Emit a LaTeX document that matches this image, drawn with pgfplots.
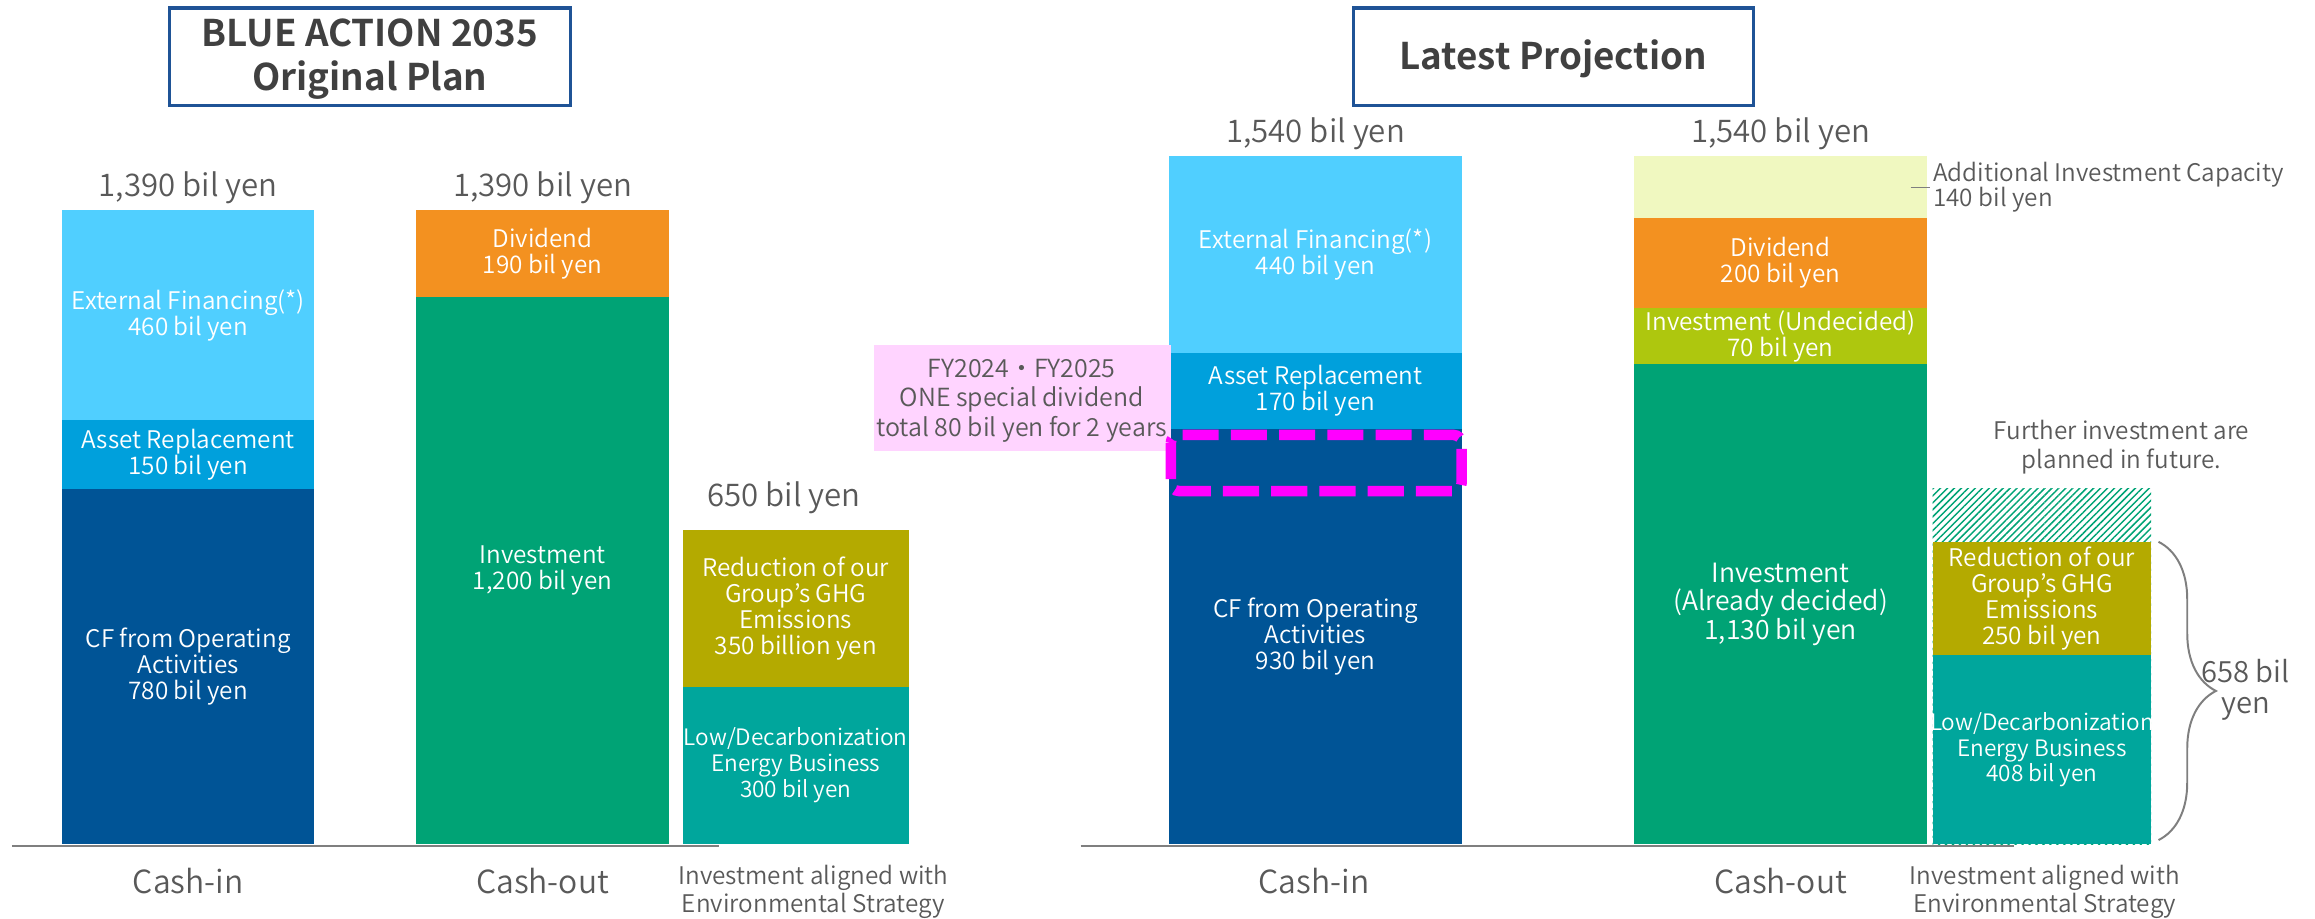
\documentclass[border=0pt]{standalone}
\usepackage{pgfplots}
\pgfplotsset{compat=1.18}
\usepackage{fontspec}
\setmainfont{Noto Sans CJK JP}[UprightFont=* DemiLight, BoldFont=* Bold]
\usetikzlibrary{patterns.meta,decorations.pathreplacing}

\definecolor{extfin}{RGB}{80,207,255}
\definecolor{asset}{RGB}{0,160,220}
\definecolor{cfop}{RGB}{0,84,150}
\definecolor{divid}{RGB}{243,145,32}
\definecolor{invest}{RGB}{0,163,117}
\definecolor{ghg}{RGB}{180,170,0}
\definecolor{lowc}{RGB}{0,166,156}
\definecolor{addcap}{RGB}{240,248,192}
\definecolor{undec}{RGB}{174,199,14}
\definecolor{pinkbox}{RGB}{255,212,255}
\definecolor{dashmag}{RGB}{255,0,255}
\definecolor{txtgray}{RGB}{89,89,89}
\definecolor{titlegray}{RGB}{64,64,64}
\definecolor{navy}{RGB}{31,83,150}
\definecolor{linegray}{RGB}{127,127,127}

\pgfplotsset{
  panel/.style={scale only axis, width=705.6pt, height=279.9pt, xmin=0, xmax=1568,
    hide axis, clip=false, at={(0,0)}, anchor=south west},
  seg/.style={ybar, bar shift=0pt, draw=none, fill=#1},
}
\tikzset{
  inl/.style={text=white, align=center, inner sep=0pt, font=\fontsize{7.4}{7.9}\selectfont},
  inls/.style={inl, font=\fontsize{6.9}{7.9}\selectfont},
  tot/.style={text=txtgray, anchor=base, inner sep=0pt, font=\fontsize{9.5}{10}\selectfont},
  cat/.style={text=txtgray, anchor=base, inner sep=0pt, font=\fontsize{9.7}{10}\selectfont},
  sml/.style={text=txtgray, anchor=base, inner sep=0pt, font=\fontsize{7.4}{8}\selectfont},
  ttl/.style={text=titlegray, anchor=base, inner sep=0pt, font=\bfseries\fontsize{11.2}{12}\selectfont},
}

\begin{document}
\begin{tikzpicture}
\path[use as bounding box] (0,0) rectangle (705.6pt,279.9pt);

% ---------- Left panel: BLUE ACTION 2035 Original Plan ----------
\begin{axis}[panel, ymin=-161.8, ymax=1850.5]
% Cash-in (cumulative tops: 780 / +150 / +460)
\addplot[seg=extfin, bar width=171] coordinates {(127.5,1390)};
\addplot[seg=asset,  bar width=171] coordinates {(127.5,930)};
\addplot[seg=cfop,   bar width=171] coordinates {(127.5,780)};
% Cash-out (1200 / +190)
\addplot[seg=divid,  bar width=171] coordinates {(367.5,1390)};
\addplot[seg=invest, bar width=171] coordinates {(367.5,1200)};
% Investment aligned with environmental strategy
\addplot[seg=ghg,  bar width=153] coordinates {(539,689)};
\addplot[seg=lowc, bar width=153] coordinates {(539,346)};

\node[inl] at (axis cs:127.5,1160) {External Financing(*)\\460 bil yen};
\node[inl] at (axis cs:127.5,855) {Asset Replacement\\150 bil yen};
\node[inl] at (axis cs:127.5,390) {CF from Operating\\Activities\\780 bil yen};
\node[inl] at (axis cs:367.5,1295) {Dividend\\190 bil yen};
\node[inl] at (axis cs:367.5,600) {Investment\\1,200 bil yen};
\node[inl] at (axis cs:539,517.5) {Reduction of our\\Group’s GHG\\Emissions\\350 billion yen};
\node[inls] at (axis cs:539,173) {Low/Decarbonization\\Energy Business\\300 bil yen};
\end{axis}

% ---------- Right panel: Latest Projection ----------
\begin{axis}[panel, ymin=-165.1, ymax=1888.4]
% Cash-in (930 / +170 / +440)
\addplot[seg=extfin, bar width=198] coordinates {(891,1540)};
\addplot[seg=asset,  bar width=198] coordinates {(891,1100)};
\addplot[seg=cfop,   bar width=198] coordinates {(891,930)};
% Cash-out
\addplot[seg=addcap, bar width=198] coordinates {(1206,1540)};
\addplot[seg=divid,  bar width=198] coordinates {(1206,1400)};
\addplot[seg=undec,  bar width=198] coordinates {(1206,1200)};
\addplot[seg=invest, bar width=198] coordinates {(1206,1074)};
% Investment aligned with environmental strategy
\addplot[ybar, bar shift=0pt, draw=none, bar width=148,
  pattern={Lines[angle=45,distance=1.5pt,line width=0.45pt]}, pattern color=invest]
  coordinates {(1383,797)};
\addplot[seg=ghg,  bar width=148] coordinates {(1383,677)};
\addplot[seg=lowc, bar width=148] coordinates {(1383,424)};

\node[inl] at (axis cs:891,1320) {External Financing(*)\\440 bil yen};
\node[inl] at (axis cs:891,1015) {Asset Replacement\\170 bil yen};
\node[inl] at (axis cs:891,465) {CF from Operating\\Activities\\930 bil yen};
\node[inl] at (axis cs:1206,1300) {Dividend\\200 bil yen};
\node[inl] at (axis cs:1206,1137) {Investment (Undecided)\\70 bil yen};
\node[inl, font=\fontsize{8.1}{8.8}\selectfont] at (axis cs:1206,537) {Investment\\(Already decided)\\1,130 bil yen};
\node[inl] at (axis cs:1383,550.5) {Reduction of our\\Group’s GHG\\Emissions\\250 bil yen};
\node[inls] at (axis cs:1383,212) {Low/Decarbonization\\Energy Business\\408 bil yen};
\end{axis}

% ---------- Overlay (coordinates in picture units, y downward) ----------
\begin{axis}[panel, ymin=0, ymax=622, y dir=reverse]
% baselines
\draw[linegray, line width=0.7pt] (axis cs:8,573) -- (axis cs:487,573);
\draw[linegray, line width=0.7pt] (axis cs:732,573) -- (axis cs:1364,573);
% title boxes
\draw[navy, line width=1pt] (axis cs:115,5.5) rectangle (axis cs:386.5,71.5);
\node[ttl] at (axis cs:250.5,31.2) {BLUE ACTION 2035};
\node[ttl] at (axis cs:250.5,61.4) {Original Plan};
\draw[navy, line width=1pt] (axis cs:916.5,5.5) rectangle (axis cs:1187.5,71.5);
\node[ttl] at (axis cs:1052,47.1) {Latest Projection};
% totals
\node[tot] at (axis cs:127.5,132.9) {1,390 bil yen};
\node[tot] at (axis cs:367.5,132.9) {1,390 bil yen};
\node[tot] at (axis cs:531,343) {650 bil yen};
\node[tot] at (axis cs:891,96.4) {1,540 bil yen};
\node[tot] at (axis cs:1206,96.4) {1,540 bil yen};
% category labels
\node[cat] at (axis cs:127.5,605.5) {Cash-in};
\node[cat] at (axis cs:367.5,605.5) {Cash-out};
\node[sml] at (axis cs:551,598.8) {Investment aligned with};
\node[sml] at (axis cs:551,617.8) {Environmental Strategy};
\node[cat] at (axis cs:890,605.5) {Cash-in};
\node[cat] at (axis cs:1206,605.5) {Cash-out};
\node[sml] at (axis cs:1385,598.8) {Investment aligned with};
\node[sml] at (axis cs:1385,617.8) {Environmental Strategy};
% additional investment capacity
\draw[linegray, line width=0.5pt] (axis cs:1294,127) -- (axis cs:1307,127);
\node[sml, anchor=base west] at (axis cs:1309,123) {Additional Investment Capacity};
\node[sml, anchor=base west] at (axis cs:1309,140) {140 bil yen};
% further investment
\node[sml] at (axis cs:1437,297.6) {Further investment are};
\node[sml] at (axis cs:1437,317) {planned in future.};
% brace
\draw[linegray, line width=0.6pt, decorate, decoration={brace, amplitude=17.5pt}]
  (axis cs:1462,367) -- (axis cs:1462,569);
\node[tot, font=\fontsize{8.9}{10}\selectfont] at (axis cs:1521,462) {658 bil};
\node[tot, font=\fontsize{8.9}{10}\selectfont] at (axis cs:1521,483) {yen};
% special dividend note
\fill[pinkbox] (axis cs:592,234) rectangle (axis cs:793,305.3);
\node[sml, font=\fontsize{7.6}{8.5}\selectfont] at (axis cs:692,255.8) {FY2024・FY2025};
\node[sml, font=\fontsize{7.6}{8.5}\selectfont] at (axis cs:692,275.6) {ONE special dividend};
\node[sml, font=\fontsize{7.6}{8.5}\selectfont] at (axis cs:692,295.4) {total 80 bil yen for 2 years};
\draw[dashmag, line width=3.2pt, dash pattern=on 11pt off 3.7pt, rounded corners=2.5pt]
  (axis cs:793,294.6) rectangle (axis cs:990,332.6);
\end{axis}
\end{tikzpicture}
\end{document}
